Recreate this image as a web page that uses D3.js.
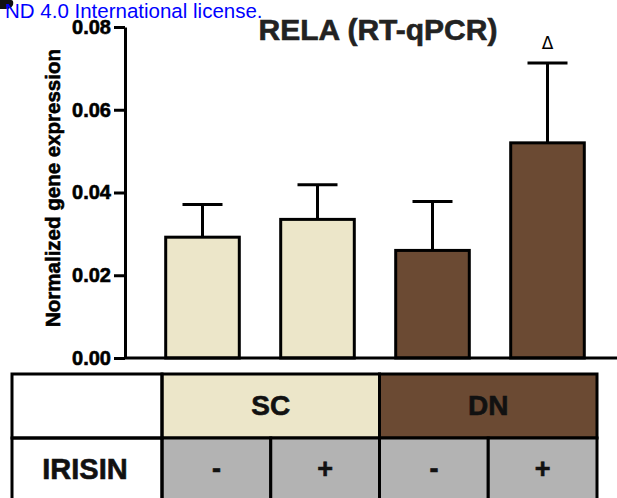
<!DOCTYPE html>
<html>
<head>
<meta charset="utf-8">
<script src="https://cdn.jsdelivr.net/npm/d3@7"></script>
<style>
  html, body { margin: 0; padding: 0; background: #fff; }
  svg { display: block; font-family: "Liberation Sans", Arial, Helvetica, sans-serif; }
  .heavy { font-weight: bold; stroke-width: 0.6px; paint-order: stroke; }
</style>
</head>
<body>
<div id="chart"></div>
<script>
// bar groups (condition + irisin treatment)
var groups = ['SC -', 'SC +', 'DN -', 'DN +'];
var conditionOf = ['SC', 'SC', 'DN', 'DN'];
var means = [0.0292, 0.0335, 0.0260, 0.0520];
var sem = [0.0079, 0.0084, 0.0118, 0.0193];
var marks = ['', '', '', '\u0394'];
var yTicks = [0, 0.02, 0.04, 0.06, 0.08];
// table rows
var conditions = ['SC', 'DN'];
var irisin = ['-', '+', '-', '+'];

var colors = { SC: '#ece6c9', DN: '#6b4a33' };
var grey = '#b3b3b3';

var width = 617, height = 498;
var svg = d3.select('#chart').append('svg')
    .attr('width', width)
    .attr('height', height);

// leftover bits of the page header
svg.append('path')
    .attr('d', 'M0,0 H11 Q14,0 13,5 Q11,9 6,9 H0 Z')
    .attr('fill', '#111');
svg.append('text')
    .attr('x', 5)
    .attr('y', 18)
    .attr('fill', '#0000ff')
    .style('font-size', '20.5px')
    .text('ND 4.0 International license.');

var x = d3.scaleBand()
    .domain(groups)
    .range([145, 605])
    .paddingInner(0.36)
    .paddingOuter(0.18);
var y = d3.scaleLinear()
    .domain([0, 0.08])
    .range([358, 27]);

// title
svg.append('text')
    .attr('class', 'heavy')
    .attr('x', 378)
    .attr('y', 40)
    .attr('text-anchor', 'middle')
    .style('font-size', '30px')
    .attr('fill', '#222').attr('stroke', '#222')
    .text('RELA (RT-qPCR)');

// y axis
var yAxis = svg.append('g')
    .attr('transform', 'translate(125,0)')
    .call(d3.axisLeft(y).tickValues(yTicks).tickFormat(d3.format('.2f'))
        .tickSize(11).tickSizeOuter(0).tickPadding(3));
yAxis.select('.domain').attr('stroke-width', 3).attr('stroke', '#000');
yAxis.selectAll('.tick line').attr('stroke-width', 3).attr('stroke', '#000');
yAxis.selectAll('.tick text')
    .attr('class', 'heavy')
    .style('font-size', '20px')
    .style('font-family', '"Liberation Sans", Arial, sans-serif')
    .attr('fill', '#000').attr('stroke', '#000');

svg.append('text')
    .attr('class', 'heavy')
    .attr('transform', 'translate(60,188) rotate(-90)')
    .attr('text-anchor', 'middle')
    .style('font-size', '20.5px')
    .attr('fill', '#000').attr('stroke', '#000')
    .text('Normalized gene expression');

// error bars (upper only)
var err = svg.append('g').selectAll('g')
    .data(groups)
    .enter().append('g');
err.append('line')
    .attr('x1', function (d) { return x(d) + x.bandwidth() / 2; })
    .attr('x2', function (d) { return x(d) + x.bandwidth() / 2; })
    .attr('y1', function (d, i) { return y(means[i]); })
    .attr('y2', function (d, i) { return y(means[i] + sem[i]); })
    .attr('stroke', '#000')
    .attr('stroke-width', 3);
err.append('line')
    .attr('x1', function (d) { return x(d) + x.bandwidth() / 2 - 20; })
    .attr('x2', function (d) { return x(d) + x.bandwidth() / 2 + 20; })
    .attr('y1', function (d, i) { return y(means[i] + sem[i]); })
    .attr('y2', function (d, i) { return y(means[i] + sem[i]); })
    .attr('stroke', '#000')
    .attr('stroke-width', 3);
err.append('text')
    .attr('x', function (d) { return x(d) + x.bandwidth() / 2; })
    .attr('y', function (d, i) { return y(means[i] + sem[i]) - 14; })
    .attr('text-anchor', 'middle')
    .style('font-family', '"DejaVu Sans", sans-serif')
    .style('font-size', '17px')
    .text(function (d, i) { return marks[i]; });

// bars
svg.append('g').selectAll('rect')
    .data(groups)
    .enter().append('rect')
    .attr('x', function (d) { return x(d); })
    .attr('width', x.bandwidth())
    .attr('y', function (d, i) { return y(means[i]); })
    .attr('height', function (d, i) { return y(0) - y(means[i]); })
    .attr('fill', function (d, i) { return colors[conditionOf[i]]; })
    .attr('stroke', '#000')
    .attr('stroke-width', 3);

// x axis baseline
svg.append('line')
    .attr('x1', 125).attr('x2', width)
    .attr('y1', y(0)).attr('y2', y(0))
    .attr('stroke', '#000')
    .attr('stroke-width', 3);

// table underneath
var t = { left: 12, labelRight: 162, right: 597, top: 374, mid: 438, bottom: 502 };
var col = d3.scaleBand().domain(d3.range(irisin.length)).range([t.labelRight, t.right]);
var tbl = svg.append('g');

tbl.append('rect')
    .attr('x', t.left).attr('y', t.top)
    .attr('width', t.labelRight - t.left).attr('height', t.bottom - t.top)
    .attr('fill', '#fff');
conditions.forEach(function (c, i) {
    var x0 = col(i * 2), x1 = col(i * 2 + 1) + col.bandwidth();
    tbl.append('rect')
        .attr('x', x0).attr('y', t.top)
        .attr('width', x1 - x0).attr('height', t.mid - t.top)
        .attr('fill', colors[c]).attr('stroke', '#000').attr('stroke-width', 3);
    tbl.append('text')
        .attr('class', 'heavy')
        .attr('x', (x0 + x1) / 2).attr('y', 415)
        .attr('text-anchor', 'middle')
        .style('font-size', '28px')
        .attr('fill', '#111').attr('stroke', '#111')
        .text(c);
});
irisin.forEach(function (s, i) {
    tbl.append('rect')
        .attr('x', col(i)).attr('y', t.mid)
        .attr('width', col.bandwidth()).attr('height', t.bottom - t.mid)
        .attr('fill', grey).attr('stroke', '#000').attr('stroke-width', 3);
    tbl.append('text')
        .attr('class', 'heavy')
        .attr('x', col(i) + col.bandwidth() / 2).attr('y', 478)
        .attr('text-anchor', 'middle')
        .style('font-size', '27px')
        .attr('fill', '#111').attr('stroke', '#111')
        .text(s);
});
tbl.append('rect')
    .attr('x', t.left).attr('y', t.top)
    .attr('width', t.labelRight - t.left).attr('height', t.mid - t.top)
    .attr('fill', 'none').attr('stroke', '#000').attr('stroke-width', 3);
tbl.append('rect')
    .attr('x', t.left).attr('y', t.mid)
    .attr('width', t.labelRight - t.left).attr('height', t.bottom - t.mid)
    .attr('fill', 'none').attr('stroke', '#000').attr('stroke-width', 3);
tbl.append('text')
    .attr('class', 'heavy')
    .attr('x', (t.left + t.labelRight) / 2 - 2).attr('y', 479)
    .attr('text-anchor', 'middle')
    .style('font-size', '29px')
    .attr('fill', '#111').attr('stroke', '#111')
    .text('IRISIN');
</script>
</body>
</html>
